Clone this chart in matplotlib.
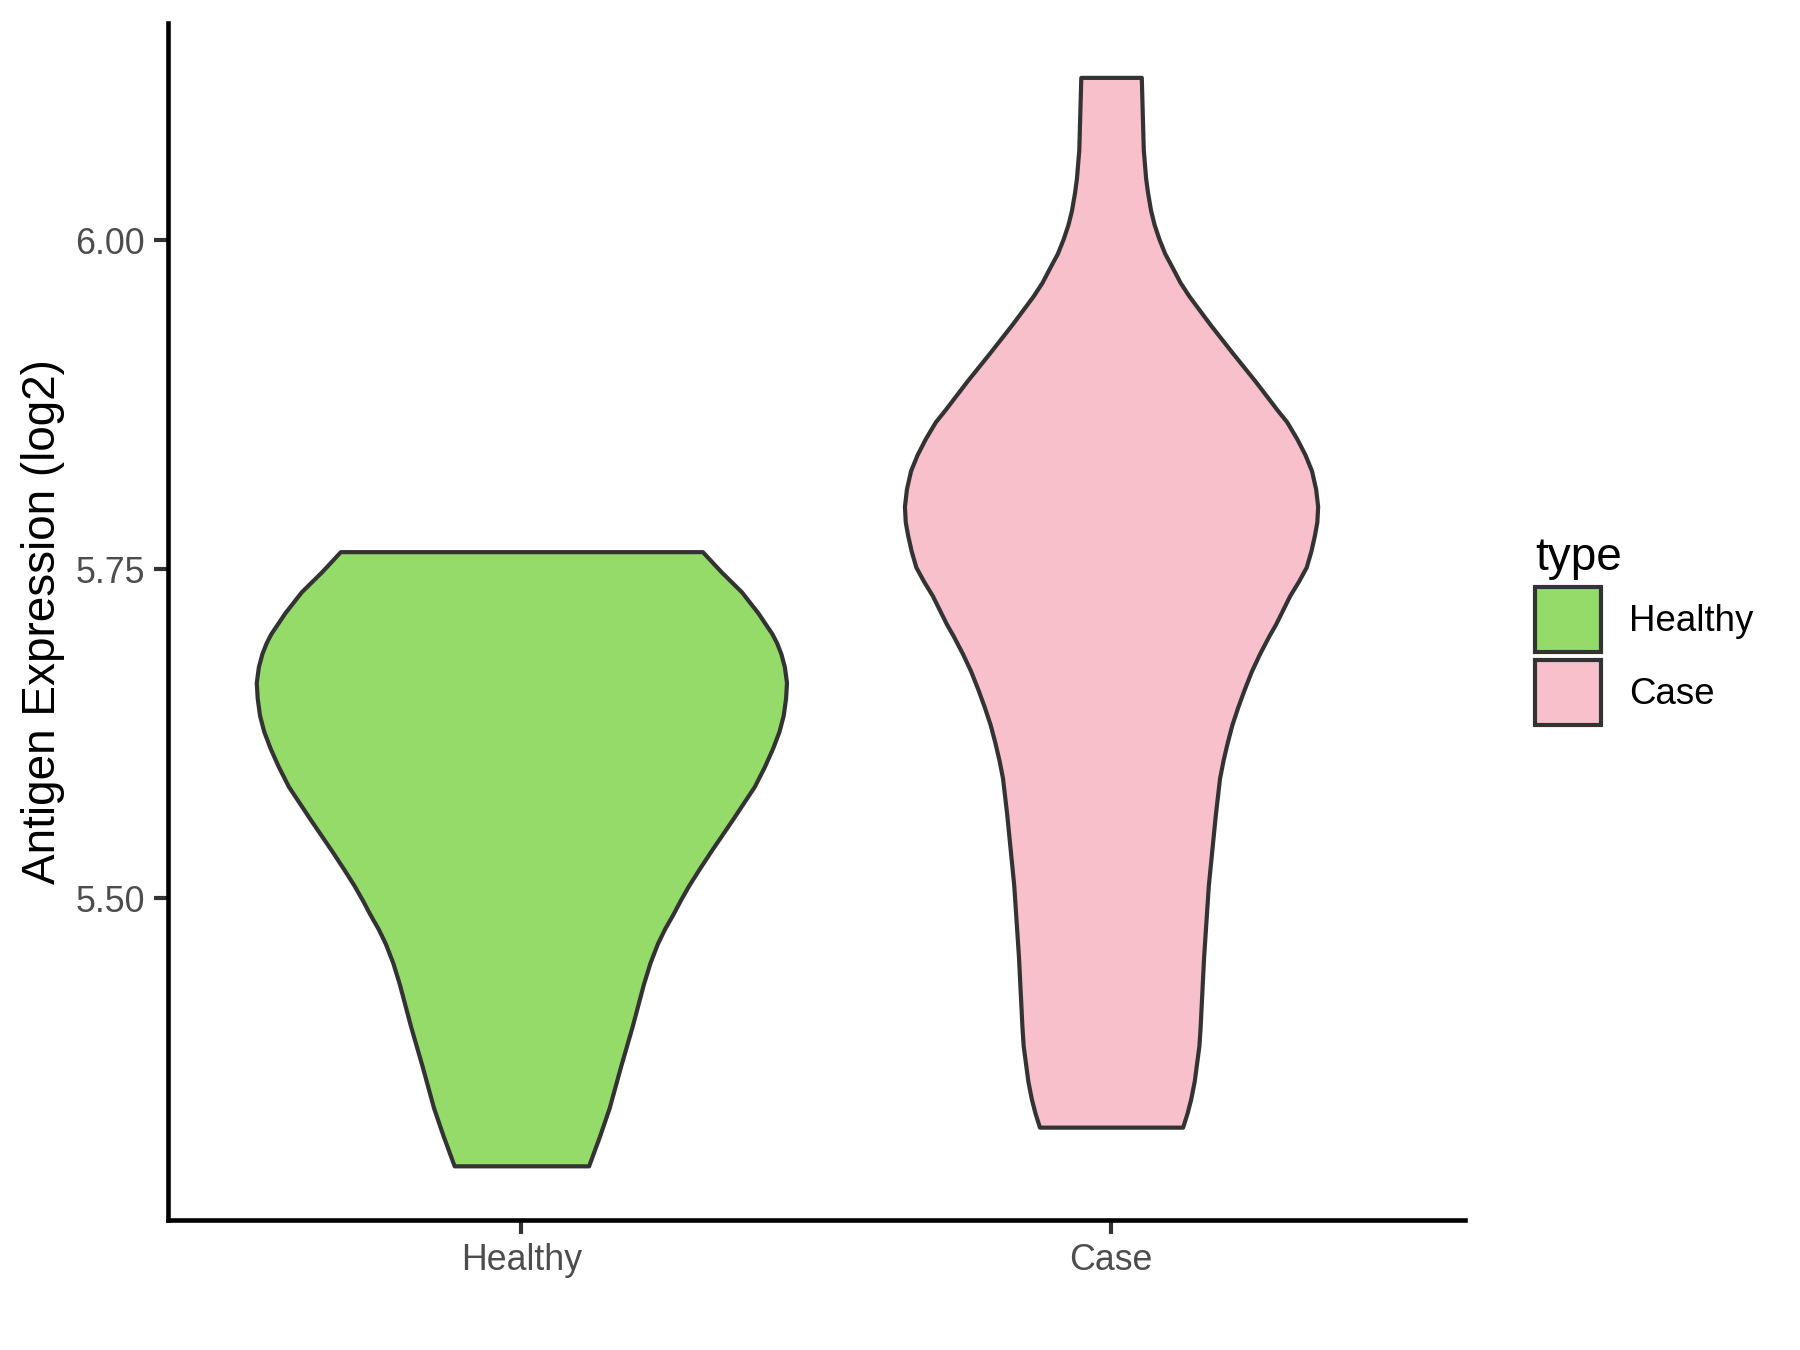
import matplotlib
matplotlib.use("Agg")
import matplotlib.pyplot as plt
from matplotlib.patches import Patch
import numpy as np

plt.rcParams['font.family'] = ['Liberation Sans', 'DejaVu Sans']

groups = ["Healthy", "Case"]
fill_colors = ["#94DB69", "#F7C0CB"]

# violin outlines: expression value and half width
healthy_y = [5.7634, 5.748, 5.733, 5.717, 5.701, 5.694, 5.686, 5.676, 5.664,
             5.652, 5.639, 5.627, 5.614, 5.600, 5.585, 5.560, 5.535, 5.522,
             5.510, 5.499, 5.488, 5.477, 5.466, 5.451, 5.435, 5.403, 5.372,
             5.341, 5.320, 5.2968]
healthy_w = [0.307, 0.339, 0.373, 0.401, 0.425, 0.433, 0.440, 0.446, 0.4496,
             0.448, 0.444, 0.437, 0.426, 0.412, 0.395, 0.358, 0.320, 0.301,
             0.284, 0.270, 0.257, 0.243, 0.231, 0.218, 0.207, 0.188, 0.168,
             0.149, 0.133, 0.114]

case_y = [6.1237, 6.0958, 6.0687, 6.0470, 6.036, 6.0227, 6.012, 6.0010,
          5.990, 5.9794, 5.968, 5.9577, 5.9360, 5.9143, 5.8926, 5.8709,
          5.862, 5.8492, 5.837, 5.8249, 5.811, 5.7978, 5.786, 5.7761, 5.764,
          5.7517, 5.741, 5.7300, 5.7083, 5.6997, 5.686, 5.6726, 5.659,
          5.6455, 5.632, 5.6184, 5.605, 5.5913, 5.5642, 5.5371, 5.5100,
          5.4829, 5.4558, 5.4287, 5.4016, 5.388, 5.3745, 5.361, 5.3474,
          5.337, 5.3262]
case_w = [0.0513, 0.0530, 0.0547, 0.0587, 0.062, 0.0671, 0.073, 0.0812,
          0.091, 0.1037, 0.117, 0.132, 0.168, 0.206, 0.245, 0.282,
          0.298, 0.315, 0.329, 0.340, 0.347, 0.3504, 0.349, 0.345, 0.339,
          0.331, 0.318, 0.303, 0.279, 0.268, 0.252, 0.238, 0.226,
          0.215, 0.205, 0.197, 0.190, 0.184, 0.177, 0.171, 0.165,
          0.161, 0.157, 0.154, 0.151, 0.149, 0.145, 0.141, 0.135,
          0.129, 0.1214]

y_ticks = [5.50, 5.75, 6.00]

profiles = [(healthy_y, healthy_w), (case_y, case_w)]

fig = plt.figure(figsize=(6, 4.5), dpi=300)
ax = fig.add_axes([0.0931, 0.0961, 0.7207, 0.8869])

for i, (vy, vw) in enumerate(profiles):
    pos = i + 1
    vy = np.array(vy)
    vw = np.array(vw)
    poly = ax.fill_betweenx(vy, pos - vw, pos + vw, facecolor=fill_colors[i],
                            edgecolor='#333333', linewidth=1.0)
    poly.set_joinstyle('round')

# ggplot style expansion
lo = min(min(healthy_y), min(case_y))
hi = max(max(healthy_y), max(case_y))
pad = 0.05 * (hi - lo)
ax.set_ylim(lo - pad, hi + pad)
ax.set_xlim(0.4, 2.6)

ax.set_xticks([1, 2])
ax.set_xticklabels(groups)
ax.set_yticks(y_ticks)
ax.set_yticklabels(["%.2f" % t for t in y_ticks])

for s in ['top', 'right']:
    ax.spines[s].set_visible(False)
for s in ['left', 'bottom']:
    ax.spines[s].set_linewidth(1.1)
    ax.spines[s].set_color('black')

ax.tick_params(axis='both', length=3.3, width=1.0, color='#333333',
               labelsize=8.6, labelcolor='#4D4D4D', pad=2.2)
ax.set_ylabel("Antigen Expression (log2)", fontsize=11, color='black', labelpad=2.3)

handles = [Patch(facecolor=c, edgecolor='#333333', linewidth=1.0, label=g)
           for g, c in zip(groups, fill_colors)]
leg = fig.legend(handles=handles, title='type', loc='center left',
                 bbox_to_anchor=(0.853, 0.533), frameon=False, fontsize=8.8,
                 title_fontsize=11, alignment='left', handlelength=1.8,
                 handleheight=2.35, labelspacing=0.2, handletextpad=0.75,
                 borderpad=0, borderaxespad=0)

fig.savefig('out.png', dpi=300)
